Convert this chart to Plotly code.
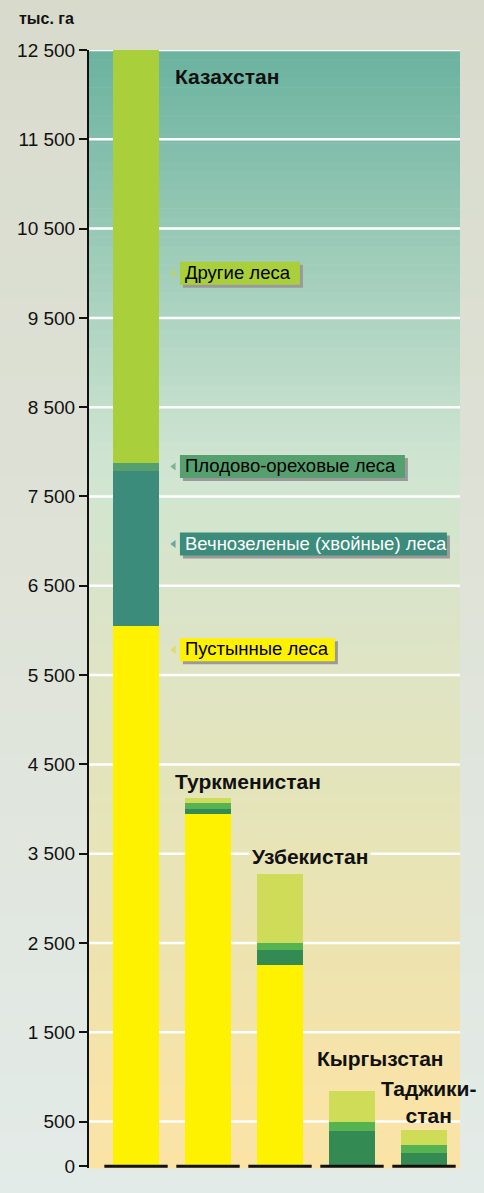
import plotly.graph_objects as go

# Forest area by type, thousand ha
countries = ["Казахстан", "Туркменистан", "Узбекистан", "Кыргызстан", "Таджикистан"]
country_labels = ["Казахстан", "Туркменистан", "Узбекистан", "Кыргызстан", "Таджики-<br>стан"]

series_names = ["Пустынные леса", "Вечнозеленые (хвойные) леса", "Плодово-ореховые леса", "Другие леса"]
desert = [6050, 3945, 2250, 0, 0]
evergreen = [1735, 55, 170, 390, 145]
fruit_nut = [90, 65, 80, 105, 90]
other = [4625, 55, 770, 345, 170]

y_ticks = [0, 500, 1500, 2500, 3500, 4500, 5500, 6500, 7500, 8500, 9500, 10500, 11500, 12500]

# Colours: Kazakhstan bar uses its own palette, the rest share a second one
kz_colors = ["#fff200", "#3b8c7b", "#56a070", "#a9cf3a"]
other_colors = ["#fff200", "#338a52", "#55b352", "#cedc58"]
label_text_colors = ["#000000", "#ffffff", "#000000", "#000000"]
marker_colors = ["#e4dc5a", "#6aa79a", "#7cb58f", "#b8d46a"]
label_box_widths = [155, 267, 225, 120]  # px, box behind each series label

W, H = 484, 1193
M_L, M_R, M_T, M_B = 89, 24, 50, 25
PLOT_H = H - M_T - M_B
Y_MIN, Y_MAX = -20, 12500

x_pos = list(range(len(countries)))
series = [desert, evergreen, fruit_nut, other]

fig = go.Figure()
for k, (name, vals) in enumerate(zip(series_names, series)):
    fig.add_trace(go.Bar(
        x=x_pos, y=vals, name=name, width=0.64,
        marker=dict(color=[kz_colors[k]] + [other_colors[k]] * (len(countries) - 1),
                    line=dict(width=0)),
        hoverinfo="y+name", showlegend=False,
    ))


def hex_to_rgb(h):
    h = h.lstrip("#")
    return tuple(int(h[i:i + 2], 16) for i in (0, 2, 4))


def lerp_color(stops, t):
    # stops: list of (position 0..1 from top, hex)
    for (p0, c0), (p1, c1) in zip(stops[:-1], stops[1:]):
        if p0 <= t <= p1:
            f = 0 if p1 == p0 else (t - p0) / (p1 - p0)
            a, b = hex_to_rgb(c0), hex_to_rgb(c1)
            return "rgb(%d,%d,%d)" % tuple(round(a[i] + (b[i] - a[i]) * f) for i in range(3))
    return stops[-1][1]


# Plot-area gradient, positions in pixels from the top of the plot area
plot_stops_px = [(0, "#6bb29f"), (40, "#74b8a4"), (90, "#80bdaa"), (225, "#a3cfbc"),
                 (410, "#cfe5d2"), (590, "#dde4c6"), (720, "#e3e4bc"),
                 (930, "#efe3ae"), (1050, "#f9e3a7"), (PLOT_H, "#fbe3a5")]
plot_stops = [(p / PLOT_H, c) for p, c in plot_stops_px]
outer_stops = [(0, "#d8dbcc"), (0.5, "#dfe3d8"), (1, "#e3ebe8")]

shapes = []
N_OUT = 60
for i in range(N_OUT):
    t = (i + 0.5) / N_OUT
    y_top_px = i * H / N_OUT
    y_bot_px = (i + 1) * H / N_OUT + 1
    shapes.append(dict(
        type="rect", xref="paper", yref="paper", layer="below",
        x0=-M_L / (W - M_L - M_R) - 0.01, x1=1 + M_R / (W - M_L - M_R) + 0.01,
        y0=(H - M_B - y_bot_px) / PLOT_H, y1=(H - M_B - y_top_px) / PLOT_H,
        fillcolor=lerp_color(outer_stops, t), line=dict(width=0),
    ))

N_IN = 120
for i in range(N_IN):
    t = (i + 0.5) / N_IN
    shapes.append(dict(
        type="rect", xref="paper", yref="paper", layer="below",
        x0=0, x1=1, y0=1 - (i + 1.05) / N_IN, y1=1 - i / N_IN,
        fillcolor=lerp_color(plot_stops, t), line=dict(width=0),
    ))

# White gridlines
for v in y_ticks[1:]:
    shapes.append(dict(type="line", xref="paper", yref="y", layer="below",
                       x0=0, x1=1, y0=v, y1=v, line=dict(color="white", width=2.5)))

# Black baseline strip under each bar
for i in x_pos:
    shapes.append(dict(type="line", xref="x", yref="y", x0=i - 0.44, x1=i + 0.44,
                       y0=0, y1=0, line=dict(color="#111111", width=3)))

FONT = "Liberation Sans, Arial, sans-serif"
annotations = []

# Axis unit
annotations.append(dict(text="тыс. га", xref="paper", yref="paper",
                        x=(17 - M_L) / (W - M_L - M_R), y=(H - M_B - 19) / PLOT_H,
                        xanchor="left", yanchor="middle", showarrow=False,
                        font=dict(family=FONT, size=16, color="#111111", weight="bold")))

# Series labels next to the Kazakhstan bar: shadow box, coloured box, text
label_x = 0.61
label_y = [5785, 6967, 7835, 10000]
for k, name in enumerate(series_names):
    w = label_box_widths[k]
    shapes.append(dict(type="rect", xref="x", yref="y", xsizemode="pixel", ysizemode="pixel",
                       xanchor=label_x, yanchor=label_y[k], x0=3, x1=w + 3, y0=-14.5, y1=8.5,
                       fillcolor="#9a9a9a", line=dict(width=0)))
    shapes.append(dict(type="rect", xref="x", yref="y", xsizemode="pixel", ysizemode="pixel",
                       xanchor=label_x, yanchor=label_y[k], x0=0, x1=w, y0=-11.5, y1=11.5,
                       fillcolor=kz_colors[k], line=dict(width=0)))
    annotations.append(dict(text=name, x=label_x, y=label_y[k], xref="x", yref="y",
                            xanchor="left", yanchor="middle", showarrow=False,
                            xshift=4, yshift=1, borderpad=0,
                            font=dict(family=FONT, size=18.5, color=label_text_colors[k])))

fig.add_trace(go.Scatter(
    x=[label_x - 0.085] * len(label_y), y=label_y, mode="markers",
    marker=dict(symbol="triangle-left", size=7, color=marker_colors, line=dict(width=0)),
    hoverinfo="skip", showlegend=False,
))

# Country labels
plot_bg_at = lambda px: lerp_color(plot_stops, (px - M_T) / PLOT_H)
country_pos = [(0.51, 12200, "left", None), (0.52, 4312, "left", None),
               (1.57, 3472, "left", plot_bg_at(856)), (2.48, 1210, "left", None),
               (4.07, 717, "center", None)]
for i, (lbl, (cx, cy, anchor, bg)) in enumerate(zip(country_labels, country_pos)):
    ann = dict(text=lbl, x=cx, y=cy, xref="x", yref="y", xanchor=anchor,
               yanchor="middle", showarrow=False, align="center",
               font=dict(family=FONT, size=21, color="#111111", weight="bold"))
    if bg:
        ann.update(bgcolor=bg, borderpad=2)
    annotations.append(ann)

fig.update_layout(
    width=W, height=H, barmode="stack", bargap=0,
    margin=dict(l=M_L, r=M_R, t=M_T, b=M_B, pad=0),
    paper_bgcolor="#dfe3d8", plot_bgcolor="rgba(0,0,0,0)",
    shapes=shapes, annotations=annotations,
    font=dict(family=FONT, size=18, color="#111111"),
    xaxis=dict(range=[-0.653, 4.5], showticklabels=False, showgrid=False,
               zeroline=False, showline=False, ticks=""),
    yaxis=dict(range=[Y_MIN, Y_MAX], tickvals=y_ticks,
               ticktext=[f"{v:,}".replace(",", " ") for v in y_ticks],
               showgrid=False, zeroline=False, showline=True, linecolor="#111111",
               linewidth=2, ticks="outside", ticklen=8, tickwidth=1.5,
               tickcolor="#111111", tickfont=dict(family=FONT, size=19, color="#111111")),
)

fig.write_html("out.html")
